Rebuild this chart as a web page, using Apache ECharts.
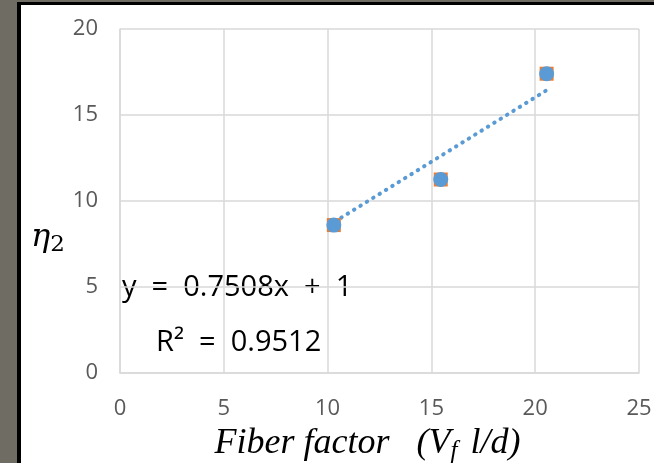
<!DOCTYPE html>
<html>
<head>
<meta charset="utf-8">
<script src="https://cdn.jsdelivr.net/npm/echarts@6/dist/echarts.min.js"></script>
<style>
  html, body { margin: 0; padding: 0; background: #6f6c64; }
  #frame {
    position: absolute; left: 17px; top: 2px; width: 660px; height: 480px;
    background: #fff; border-left: 4px solid #000; border-top: 3px solid #000;
  }
  #chart { position: absolute; left: 0; top: 0; width: 654px; height: 463px; }
</style>
</head>
<body>
<div id="frame"></div>
<div id="chart"></div>
<script>
// fiber factor vs eta_2
const fiberFactor = [10.3, 15.45, 20.55]
const eta2 = [8.6, 11.25, 17.4]
// linear trendline end points as drawn
const trendX = [10.35, 20.5]
const trendY = [8.8, 16.4]
const xTicks = [0, 25, 5]
const yTicks = [0, 20, 5]
const equationText = 'y  =  0.7508x  +  1'
const r2Text = 'R²  =  0.9512'

const points = fiberFactor.map((x, i) => [x, eta2[i]])
const trend = trendX.map((x, i) => [x, trendY[i]])

const chart = echarts.init(document.getElementById('chart'))
const gridColor = '#d9d9d9'
const labelColor = '#595959'

chart.setOption({
  animation: false,
  grid: { left: 120, right: 15, top: 29, bottom: 90, outerBoundsMode: 'none' },
  xAxis: {
    type: 'value',
    min: xTicks[0], max: xTicks[1], interval: xTicks[2],
    axisLine: { show: true, lineStyle: { color: gridColor, width: 1.5 } },
    axisTick: { show: false },
    splitLine: { lineStyle: { color: gridColor, width: 1.5 } },
    axisLabel: { color: labelColor, fontSize: 22, fontFamily: 'Open Sans', margin: 25 },
    name: '{i|Fiber factor   (V}{sub|f}{i| l/d)}',
    nameLocation: 'middle',
    nameGap: 50,
    nameTextStyle: {
      padding: [0, 24, 0, 0],
      rich: {
        i: { fontFamily: 'Liberation Serif', fontStyle: 'italic', fontSize: 36, color: '#000' },
        sub: { fontFamily: 'Liberation Serif', fontStyle: 'italic', fontSize: 25, color: '#000', padding: [16, 4, 0, 0] }
      }
    }
  },
  yAxis: {
    type: 'value',
    min: yTicks[0], max: yTicks[1], interval: yTicks[2],
    axisLine: { show: true, lineStyle: { color: gridColor, width: 1.5 } },
    axisTick: { show: false },
    splitLine: { lineStyle: { color: gridColor, width: 1.5 } },
    axisLabel: { color: labelColor, fontSize: 22, fontFamily: 'Open Sans', margin: 22 }
  },
  graphic: [
    {
      type: 'text', left: 31, top: 222,
      style: {
        text: '{e|η}{s|2}',
        rich: {
          e: { fontFamily: 'DejaVu Serif', fontStyle: 'italic', fontSize: 32, fill: '#000' },
          s: { fontFamily: 'DejaVu Serif', fontSize: 23, fill: '#000', padding: [14, 0, 0, 0] }
        }
      }
    },
    {
      type: 'text', left: 122, top: 273,
      style: { text: equationText, fontFamily: 'Open Sans', fontSize: 29, fill: '#000' }
    },
    {
      type: 'text', left: 156, top: 328,
      style: { text: r2Text, fontFamily: 'Open Sans', fontSize: 29, fill: '#000' }
    }
  ],
  series: [
    {
      type: 'line',
      data: trend,
      symbol: 'none',
      lineStyle: { color: '#5b9bd5', width: 4, type: [0.5, 7], cap: 'round' },
      z: 2
    },
    {
      type: 'scatter',
      data: points,
      symbol: 'rect',
      symbolSize: 14,
      itemStyle: { color: '#ed7d31', opacity: 1 },
      z: 3
    },
    {
      type: 'scatter',
      data: points,
      symbol: 'circle',
      symbolSize: 15,
      itemStyle: { color: '#5b9bd5', opacity: 1 },
      z: 4
    }
  ]
})
</script>
</body>
</html>
